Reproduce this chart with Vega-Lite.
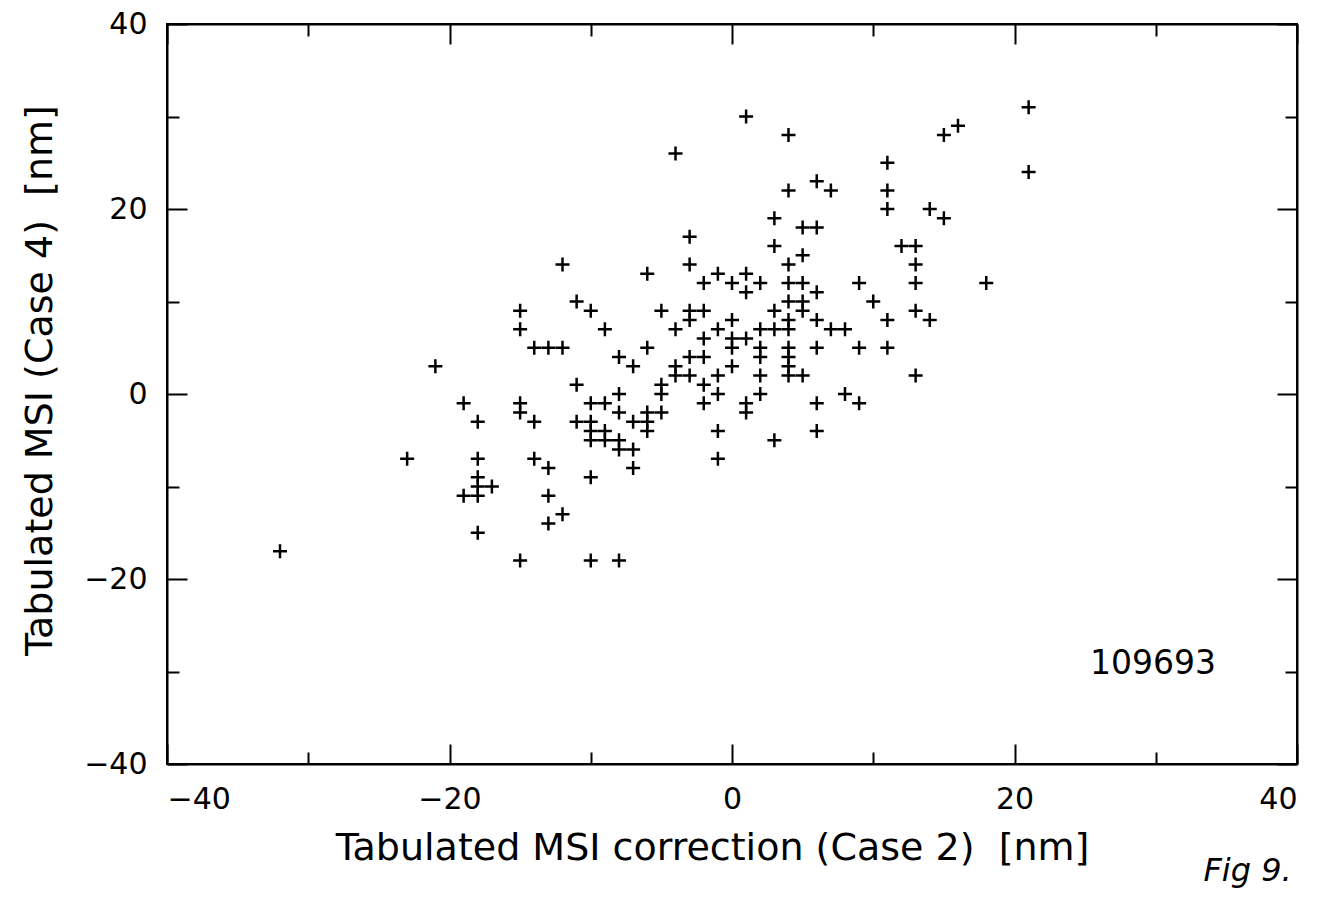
{
  "$schema": "https://vega.github.io/schema/vega-lite/v6.json",
  "width": 1130,
  "height": 740,
  "autosize": {"type": "none"},
  "padding": {"left": 167, "top": 24, "right": 38, "bottom": 133},
  "background": "white",
  "config": {
    "view": {"stroke": "black", "strokeWidth": 2},
    "axis": {
      "grid": false,
      "domainColor": "black",
      "domainWidth": 2,
      "tickColor": "black",
      "tickWidth": 2,
      "labelColor": "black",
      "labelFont": "DejaVu Sans",
      "labelFontSize": 30,
      "titleColor": "black",
      "titleFont": "DejaVu Sans",
      "titleFontSize": 38,
      "titleFontWeight": "normal"
    }
  },
  "datasets": {
    "pts": [
      {"x": -32, "y": -17}, {"x": -23, "y": -7}, {"x": -21, "y": 3}, {"x": -19, "y": -1}, {"x": -19, "y": -11},
      {"x": -18, "y": -3}, {"x": -18, "y": -7}, {"x": -18, "y": -9}, {"x": -18, "y": -10}, {"x": -18, "y": -11},
      {"x": -18, "y": -15}, {"x": -17, "y": -10}, {"x": -15, "y": 9}, {"x": -15, "y": 7}, {"x": -15, "y": -1},
      {"x": -15, "y": -2}, {"x": -15, "y": -18}, {"x": -14, "y": 5}, {"x": -14, "y": -3}, {"x": -14, "y": -7},
      {"x": -13, "y": 5}, {"x": -13, "y": -8}, {"x": -13, "y": -11}, {"x": -13, "y": -14}, {"x": -12, "y": 5},
      {"x": -12, "y": 14}, {"x": -12, "y": -13}, {"x": -11, "y": 10}, {"x": -11, "y": 1}, {"x": -11, "y": -3},
      {"x": -10, "y": 9}, {"x": -10, "y": -1}, {"x": -10, "y": -3}, {"x": -10, "y": -4}, {"x": -10, "y": -5},
      {"x": -10, "y": -9}, {"x": -10, "y": -18}, {"x": -9, "y": 7}, {"x": -9, "y": -1}, {"x": -9, "y": -4},
      {"x": -9, "y": -5}, {"x": -8, "y": 4}, {"x": -8, "y": 0}, {"x": -8, "y": -2}, {"x": -8, "y": -5},
      {"x": -8, "y": -6}, {"x": -8, "y": -18}, {"x": -7, "y": 3}, {"x": -7, "y": -3}, {"x": -7, "y": -6},
      {"x": -7, "y": -8}, {"x": -6, "y": 13}, {"x": -6, "y": 5}, {"x": -6, "y": -2}, {"x": -6, "y": -3},
      {"x": -6, "y": -4}, {"x": -5, "y": 9}, {"x": -5, "y": 1}, {"x": -5, "y": 0}, {"x": -5, "y": -2},
      {"x": -4, "y": 7}, {"x": -4, "y": 3}, {"x": -4, "y": 2}, {"x": -4, "y": 26}, {"x": -3, "y": 17},
      {"x": -3, "y": 14}, {"x": -3, "y": 9}, {"x": -3, "y": 8}, {"x": -3, "y": 4}, {"x": -3, "y": 2},
      {"x": -2, "y": 12}, {"x": -2, "y": 9}, {"x": -2, "y": 6}, {"x": -2, "y": 4}, {"x": -2, "y": 1},
      {"x": -2, "y": -1}, {"x": -1, "y": 13}, {"x": -1, "y": 7}, {"x": -1, "y": 2}, {"x": -1, "y": 0},
      {"x": -1, "y": -4}, {"x": -1, "y": -7}, {"x": 0, "y": 12}, {"x": 0, "y": 8}, {"x": 0, "y": 6},
      {"x": 0, "y": 5}, {"x": 0, "y": 3}, {"x": 1, "y": 30}, {"x": 1, "y": 13}, {"x": 1, "y": 11},
      {"x": 1, "y": 6}, {"x": 1, "y": -1}, {"x": 1, "y": -2}, {"x": 2, "y": 12}, {"x": 2, "y": 7},
      {"x": 2, "y": 5}, {"x": 2, "y": 4}, {"x": 2, "y": 2}, {"x": 2, "y": 0}, {"x": 3, "y": 19},
      {"x": 3, "y": 16}, {"x": 3, "y": 9}, {"x": 3, "y": 7}, {"x": 3, "y": -5}, {"x": 4, "y": 28},
      {"x": 4, "y": 22}, {"x": 4, "y": 14}, {"x": 4, "y": 12}, {"x": 4, "y": 10}, {"x": 4, "y": 8},
      {"x": 4, "y": 7}, {"x": 4, "y": 5}, {"x": 4, "y": 4}, {"x": 4, "y": 3}, {"x": 4, "y": 2},
      {"x": 5, "y": 18}, {"x": 5, "y": 15}, {"x": 5, "y": 12}, {"x": 5, "y": 10}, {"x": 5, "y": 9},
      {"x": 5, "y": 2}, {"x": 6, "y": 23}, {"x": 6, "y": 18}, {"x": 6, "y": 11}, {"x": 6, "y": 8},
      {"x": 6, "y": 5}, {"x": 6, "y": -1}, {"x": 6, "y": -4}, {"x": 7, "y": 22}, {"x": 7, "y": 7},
      {"x": 8, "y": 7}, {"x": 8, "y": 0}, {"x": 9, "y": 12}, {"x": 9, "y": 5}, {"x": 9, "y": -1},
      {"x": 10, "y": 10}, {"x": 11, "y": 25}, {"x": 11, "y": 22}, {"x": 11, "y": 20}, {"x": 11, "y": 8},
      {"x": 11, "y": 5}, {"x": 12, "y": 16}, {"x": 13, "y": 16}, {"x": 13, "y": 14}, {"x": 13, "y": 12},
      {"x": 13, "y": 9}, {"x": 13, "y": 2}, {"x": 14, "y": 20}, {"x": 14, "y": 8}, {"x": 15, "y": 28},
      {"x": 15, "y": 19}, {"x": 16, "y": 29}, {"x": 18, "y": 12}, {"x": 21, "y": 31}, {"x": 21, "y": 24}
    ],
    "notes": [
      {"x": 29.8, "y": -29.2, "label": "109693", "kind": "id"},
      {"x": 36.5, "y": -51.6, "label": "Fig 9.", "kind": "fig"}
    ]
  },
  "layer": [
    {
      "data": {"name": "pts"},
      "mark": {"type": "point", "shape": "M-1,0H1M0,-1V1", "filled": false, "stroke": "black", "strokeWidth": 2.5, "size": 196, "opacity": 1},
      "encoding": {
        "x": {
          "field": "x", "type": "quantitative",
          "scale": {"domain": [-40, 40], "nice": false, "zero": false},
          "axis": {
            "orient": "bottom",
            "values": [-40, -30, -20, -10, 0, 10, 20, 30, 40],
            "tickSize": {"condition": {"test": "datum.value % 20 === 0", "value": -20}, "value": -12},
            "labelExpr": "datum.value % 20 === 0 ? datum.label : ''",
            "labelPadding": 40,
            "labelBaseline": "top",
            "title": "Tabulated MSI correction (Case 2)\u00a0\u00a0[nm]",
            "titleX": 545,
            "titleY": 84,
            "titleAnchor": null,
            "titleAlign": "center",
            "titleBaseline": "middle"
          }
        },
        "y": {
          "field": "y", "type": "quantitative",
          "scale": {"domain": [-40, 40], "nice": false, "zero": false},
          "axis": {
            "orient": "left",
            "values": [-40, -30, -20, -10, 0, 10, 20, 30, 40],
            "tickSize": {"condition": {"test": "datum.value % 20 === 0", "value": -20}, "value": -12},
            "labelExpr": "datum.value % 20 === 0 ? datum.label : ''",
            "labelPadding": 40,
            "labelBaseline": "middle",
            "title": "Tabulated MSI (Case 4)\u00a0\u00a0[nm]",
            "titleX": -127,
            "titleY": 356,
            "titleAngle": -90,
            "titleAlign": "center",
            "titleBaseline": "middle"
          }
        }
      }
    },
    {
      "data": {"name": "pts"},
      "mark": {"type": "point", "opacity": 0},
      "encoding": {
        "x": {
          "field": "x", "type": "quantitative",
          "axis": {
            "orient": "top",
            "values": [-40, -30, -20, -10, 0, 10, 20, 30, 40],
            "tickSize": {"condition": {"test": "datum.value % 20 === 0", "value": -20}, "value": -12},
            "labels": false,
            "title": null
          }
        },
        "y": {
          "field": "y", "type": "quantitative",
          "axis": {
            "orient": "right",
            "values": [-40, -30, -20, -10, 0, 10, 20, 30, 40],
            "tickSize": {"condition": {"test": "datum.value % 20 === 0", "value": -20}, "value": -12},
            "labels": false,
            "title": null
          }
        }
      }
    },
    {
      "data": {"name": "notes"},
      "transform": [{"filter": "datum.kind === 'id'"}],
      "mark": {"type": "text", "font": "DejaVu Sans", "fontSize": 33, "color": "black", "align": "center", "baseline": "middle"},
      "encoding": {
        "x": {"field": "x", "type": "quantitative", "axis": null},
        "y": {"field": "y", "type": "quantitative", "axis": null},
        "text": {"field": "label"}
      }
    },
    {
      "data": {"name": "notes"},
      "transform": [{"filter": "datum.kind === 'fig'"}],
      "mark": {"type": "text", "font": "DejaVu Sans", "fontStyle": "italic", "fontSize": 32, "color": "black", "align": "center", "baseline": "middle"},
      "encoding": {
        "x": {"field": "x", "type": "quantitative", "axis": null},
        "y": {"field": "y", "type": "quantitative", "axis": null},
        "text": {"field": "label"}
      }
    }
  ],
  "resolve": {"axis": {"x": "independent", "y": "independent"}}
}
